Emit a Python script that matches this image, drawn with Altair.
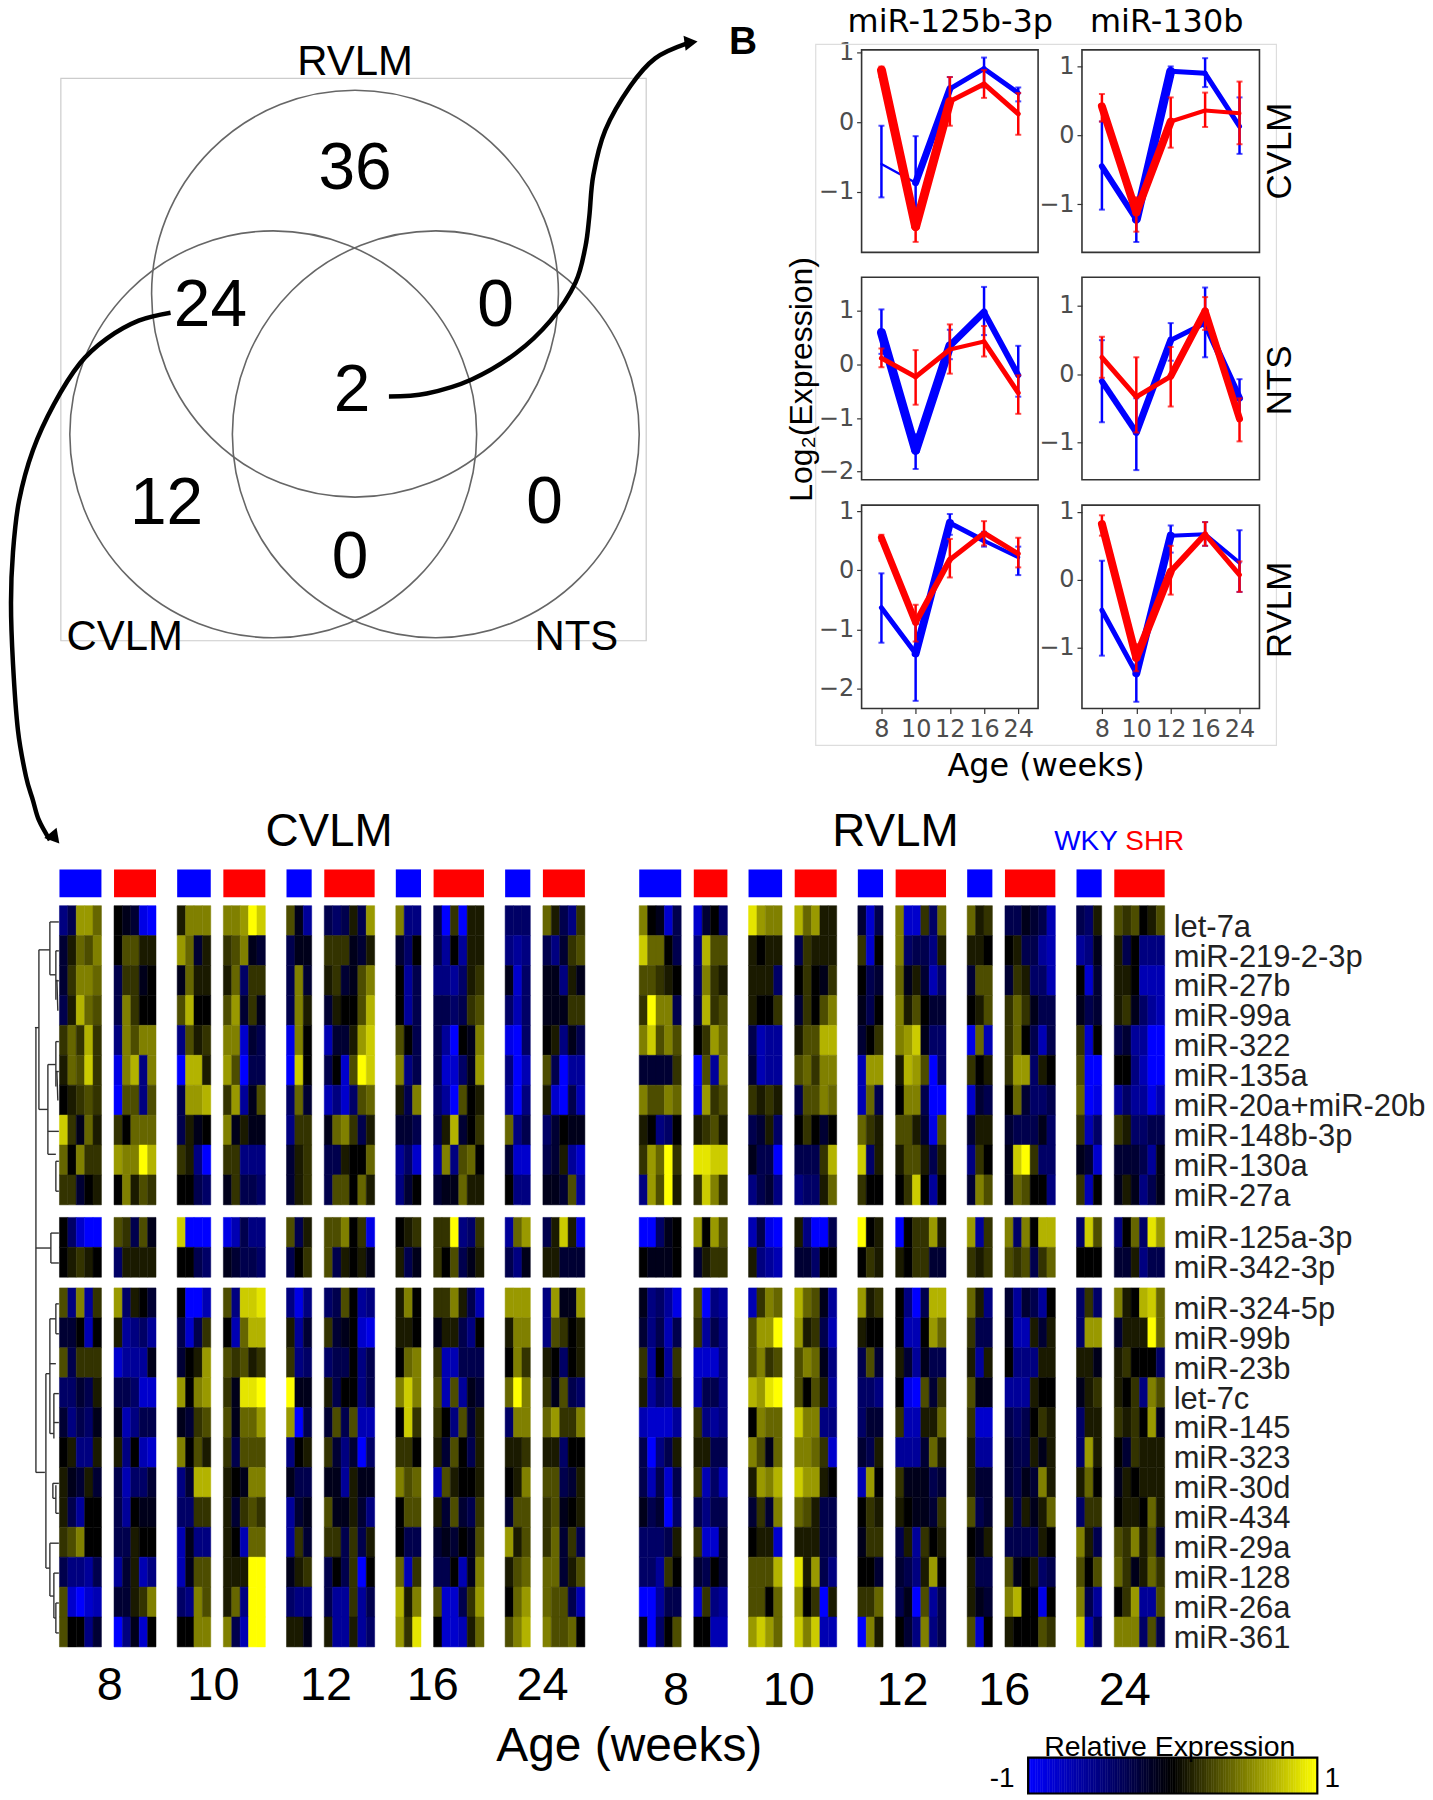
import altair as alt

W, H = 1421, 1790

# ---------- heat map values, tenths of relative expression, one row per miRNA ----------
ROW_LABELS = ["let-7a", "miR-219-2-3p", "miR-27b", "miR-99a", "miR-322", "miR-135a", "miR-20a+miR-20b",
              "miR-148b-3p", "miR-130a", "miR-27a", "miR-125a-3p", "miR-342-3p", "miR-324-5p", "miR-99b",
              "miR-23b", "let-7c", "miR-145", "miR-323", "miR-30d", "miR-434", "miR-29a", "miR-128",
              "miR-26a", "miR-361"]

C8W = [[-5,-3,6,6,4],[-2,1,4,3,5],[-2,2,5,5,4],[-3,1,7,4,3],[2,4,2,7,2],[1,4,3,8,2],[0,1,2,3,2],[8,2,-1,4,1],[4,0,5,2,2],[2,2,-2,0,1],
       [0,-4,-8,-10,-10],[0,1,2,1,0],
       [3,-5,5,-6,2],[-2,-2,0,-7,0],[3,-3,2,2,2],[-4,-4,-2,-3,1],[-2,-5,-3,-4,-1],[0,1,-5,-5,1],[1,-1,-2,1,-2],[1,-3,-6,0,0],[2,3,5,0,0],[-3,-5,-5,-6,-3],[3,-8,-10,-8,-7],[3,0,0,-5,-2]]
C8S = [[0,-1,-2,-9,-10],[0,3,3,1,1],[-3,2,2,-1,0],[-3,5,2,0,0],[-5,5,3,5,5],[-9,5,7,-5,5],[-10,3,3,-5,3],[2,0,4,4,4],[6,5,5,10,7],[0,5,1,3,2],
       [3,2,-3,3,-1],[-4,1,1,1,1],
       [6,-4,1,0,-2],[1,-6,-5,-4,-6],[-8,-6,-6,-6,-1],[-3,-3,-4,-8,-8],[-1,-7,-5,-3,-3],[1,-5,0,-7,-8],[-3,-7,-4,-4,-2],[-3,-6,0,-1,-1],[-3,-3,1,0,0],[-6,-2,1,-7,-5],[-2,-2,1,2,5],[-10,-5,-1,-8,0]]
C10W = [[1,5,5,5],[6,4,-2,1],[-1,4,1,1],[3,7,0,0],[-5,3,1,2],[-10,7,7,1],[-3,6,6,7],[-3,1,-1,0],[2,1,-5,-10],[0,0,-3,-4],
        [8,-10,-10,-10],[0,0,-3,-4],
        [0,-10,-10,-7],[-3,-8,-3,2],[-2,0,1,6],[6,0,5,6],[-1,-2,2,3],[5,0,3,1],[-5,-2,7,7],[-4,-4,2,2],[-7,-1,-5,-5],[-7,-1,3,3],[-4,-5,5,3],[0,0,5,5]]
C10S = [[5,5,6,10,8],[2,3,5,-1,-2],[1,4,-4,2,2],[3,6,-2,2,-1],[5,5,-8,-2,-3],[6,3,-10,-3,-3],[2,6,-6,-1,3],[5,-1,1,-1,-1],[2,2,-5,-5,-5],[-1,2,-3,-3,-4],
        [-9,-7,-3,-5,-5],[-1,-2,-3,-3,-4],
        [3,-5,8,8,9],[0,-7,4,7,7],[3,2,3,1,2],[2,-1,9,9,10],[3,-1,4,4,6],[2,-3,3,3,3],[1,0,-1,5,5],[1,-2,2,3,2],[1,0,-7,4,4],[1,1,1,10,10],[1,4,-5,10,10],[5,-3,-7,10,10]]
C12W = [[3,-1,-6],[-3,-1,-1],[-3,5,-2],[-3,5,1],[-9,5,0],[-10,8,0],[-4,4,-2],[-5,2,2],[-2,1,2],[-2,1,2],
        [3,-3,1],[-3,0,2],
        [-5,-9,-5],[1,-6,-2],[2,-5,-4],[10,-1,-1],[6,-10,-3],[-5,0,1],[-1,-3,-3],[-6,-2,-1],[-6,2,-2],[-1,1,2],[-4,-5,-5],[1,1,-1]]
C12S = [[-3,-4,-3,1,-3,6],[2,2,2,-1,-2,1],[1,2,-2,-1,3,5],[-2,1,0,0,3,7],[-7,-2,-2,1,6,8],[-3,0,-8,3,10,8],[-7,-5,-8,-4,3,4],[-1,4,5,2,-3,1],[-3,-3,1,0,0,4],[-3,3,3,0,4,1],
        [3,3,5,0,2,-9],[3,-3,1,0,1,-1],
        [-4,-3,3,0,-6,-5],[2,-2,-1,0,-8,-9],[-4,-3,-3,0,-5,-3],[1,-3,0,0,-5,-3],[-2,3,-3,3,-7,-7],[2,-2,-5,-2,-10,-4],[-1,-1,-6,1,-1,-1],[3,-1,-1,1,-2,-5],[2,2,-3,2,-3,1],[-3,0,-3,2,-10,0],[-3,-6,-6,2,-6,-3],[1,-6,-6,1,-6,-4]]
C16W = [[5,-5,-5],[-2,-4,0],[0,-6,-3],[0,-6,-3],[3,0,-3],[5,-5,-3],[1,-3,5],[-2,-2,-3],[-6,-4,-8],[-5,-2,0],
        [0,1,2],[1,-3,-1],
        [1,5,0],[1,1,0],[0,4,5],[5,8,5],[0,8,2],[2,2,0],[5,3,4],[0,3,3],[0,-3,-3],[4,-7,2],[7,1,5],[6,2,9]]
C16S = [[-3,-10,2,-10,1,1],[-3,-6,0,-6,1,1],[-5,-5,-6,-4,1,2],[-3,-3,-4,-3,2,3],[-3,-6,-10,0,-1,5],[-3,-8,-8,-4,-1,6],[-4,-6,-10,3,0,1],[-3,1,7,-2,0,2],[-6,5,-5,3,4,0],[-2,-1,-1,4,1,1],
        [2,2,10,-5,-4,2],[2,0,3,-3,-1,1],
        [2,2,5,1,-3,-7],[-1,1,1,-3,-5,0],[2,-7,-7,-3,-3,-3],[3,-7,3,-6,-1,-2],[2,0,-5,3,-2,1],[1,-2,3,0,-3,1],[-7,3,1,0,0,1],[1,-2,3,-2,-3,2],[-2,-1,-2,0,-1,3],[-3,-3,0,-7,-1,5],[3,-8,-8,-3,2,6],[0,-8,-8,-7,1,4]]
C24W = [[-4,-4,-4],[-5,-6,-5],[-1,-8,-4],[-4,-7,-4],[-9,-10,-4],[-5,-10,-7],[-6,-10,-5],[4,-5,-3],[-2,-8,-8],[0,-5,-5],
        [-6,4,6],[-3,-5,-1],
        [6,6,6],[1,5,5],[0,5,2],[4,10,5],[-4,5,5],[1,1,2],[0,1,5],[-2,3,3],[6,1,3],[1,3,4],[0,4,6],[3,5,7]]
C24S = [[4,1,-3,-5,2],[-3,-5,-2,2,3],[-1,-1,-5,1,-1],[-1,-1,-1,2,2],[0,1,-5,-1,-3],[3,-3,-10,-6,-6],[1,-8,-10,-3,-7],[-4,-2,0,-1,-1],[-3,-2,1,-6,-8],[-1,-1,-2,3,-6],
        [-3,1,8,1,-9],[1,1,-2,-2,-2],
        [-5,6,-1,-1,6],[-5,3,2,0,1],[1,0,-4,0,1],[2,-1,3,-3,-4],[4,6,2,2,5],[1,1,-4,0,0],[3,3,-3,-2,1],[2,3,-1,0,1],[2,4,-2,2,-3],[4,4,-2,1,3],[4,3,3,-3,-7],[5,3,3,4,0]]

R8W = [[5,0,-1,-8,-3],[8,4,4,0,-3],[3,3,2,1,0],[2,10,5,5,-3],[5,8,3,5,3],[-2,-2,-2,-2,2],[5,3,3,5,4],[1,0,-5,-4,0],[2,6,4,10,2],[-5,6,3,10,1],
       [-10,-10,-4,-1,0],[0,-1,-1,-1,0],
       [-1,-5,-4,-6,-9],[-2,-5,-3,-7,-3],[2,-6,0,-6,2],[1,-6,-4,-5,1],[-7,-8,-8,-8,-6],[-3,-10,-5,-3,1],[-3,-7,-3,-8,-3],[-1,-3,-2,-10,-4],[-4,-4,-4,-3,1],[-4,-4,-6,2,0],[-10,-10,-6,-3,-3],[-1,-10,-4,0,3]]
R8S = [[-8,-2,0,-4],[-5,7,3,3],[-4,5,2,1],[-3,7,2,3],[0,2,6,4],[-10,3,-6,5],[-9,6,2,3],[1,2,3,1],[9,9,8,8],[2,8,5,2],
       [6,0,6,3],[-2,1,2,2],
       [3,-10,-5,-6],[2,-6,-3,-5],[-8,-8,-8,-5],[-7,-3,-3,-5],[2,-5,-6,-5],[1,1,-3,-3],[2,-7,-4,-7],[-3,-5,-3,-3],[2,-8,-8,-2],[-2,-3,0,-2],[-8,2,-5,-6],[0,0,-7,-7]]
R10W = [[9,6,5,5],[1,0,1,1],[1,1,1,-4],[1,0,0,2],[-3,-7,-6,-6],[-2,-7,-6,-6],[2,1,2,1],[-3,-2,1,-4],[-1,-3,-3,-10],[-5,-3,-2,-5],
        [-7,-3,-9,-10],[1,-5,-6,-7],
        [-7,2,5,4],[3,6,6,10],[3,5,2,3],[7,6,9,10],[0,5,4,4],[5,3,-1,4],[1,6,5,7],[-2,2,-2,5],[0,1,1,-8],[3,3,3,7],[3,3,0,4],[6,8,6,4]]
R10S = [[7,4,6,1,1],[-3,2,1,1,1],[0,2,0,-1,2],[-2,2,0,3,5],[1,3,3,7,7],[3,4,2,5,5],[-3,3,3,5,4],[0,2,0,-2,0],[-3,-3,-3,2,7],[-5,-4,-4,1,4],
        [1,-5,-10,-10,-3],[-2,-2,-4,0,0],
        [7,4,3,-1,-6],[6,1,2,-3,-7],[3,5,4,-1,-5],[3,0,3,1,-6],[8,5,5,-5,-5],[5,5,4,2,-8],[8,6,6,1,0],[4,3,1,-3,-3],[1,1,1,-3,-3],[9,1,6,-3,-5],[6,0,2,-10,1],[8,5,8,-7,-7]]
R12W = [[-2,-8,-3],[2,-8,0],[0,-3,-2],[-1,-3,0],[-2,0,2],[-7,6,6],[-7,4,-3],[4,2,1],[8,-4,1],[2,0,0],
        [10,0,1],[0,2,1],
        [6,1,2],[1,0,0],[-3,3,-2],[-4,-4,-5],[-4,-2,-2],[-2,-3,1],[-7,6,0],[0,2,1],[-1,2,2],[0,0,-2],[2,2,4],[-10,5,1]]
R12S = [[5,-8,-8,2,-4,4],[5,-4,-3,-3,-5,1],[4,-1,1,-2,-7,-4],[5,1,3,0,-2,-2],[5,6,8,-1,-4,-4],[1,7,6,3,-10,-4],[0,5,5,-3,-10,-10],[3,3,1,-2,-9,3],[1,3,3,1,-3,1],[0,2,8,0,-6,0],
        [-10,0,2,2,6,1],[1,0,2,2,-2,-2],
        [0,-5,-10,-3,7,7],[0,-7,-7,0,6,4],[1,-2,-6,-1,-3,-3],[0,-9,-10,3,-2,2],[2,-7,-7,1,1,4],[-6,-6,-6,-2,4,1],[2,-1,-1,-1,-3,-2],[1,0,-1,-1,-2,2],[-3,1,-6,2,0,1],[-2,-3,-5,1,6,0],[-3,-1,-10,3,-6,-3],[0,-2,-5,5,-5,-3]]
R16W = [[4,1,2],[1,1,0],[-2,3,3],[0,1,3],[-9,4,-7],[2,0,1],[-8,-2,-3],[-2,1,1],[-5,2,0],[-2,5,3],
        [6,-6,2],[2,1,2],
        [4,1,-5],[2,-3,-3],[1,-6,1],[3,-1,-1],[2,-8,-8],[1,-6,-6],[1,-2,-2],[3,-3,-2],[0,-1,1],[1,-3,-3],[1,-1,-2],[3,-8,0]]
R16S = [[-3,-3,-1,-2,-3,-7],[0,1,-3,-3,-6,-7],[-2,2,1,-4,-4,-7],[2,4,2,-1,-3,-3],[2,4,0,-3,-7,-3],[2,6,6,-4,1,0],[0,4,-2,-4,-4,-3],[-2,-3,-3,-3,-1,-4],[-1,8,10,2,-4,-4],[-1,4,3,0,0,-5],
        [5,-4,5,0,7,7],[3,2,3,-3,2,4],
        [-2,-6,-2,-3,-6,0],[-1,-7,-7,1,-2,1],[0,-5,-5,-5,1,1],[-6,-6,-6,1,0,0],[-3,-4,-3,0,2,1],[-2,-3,-3,1,-1,1],[-2,-3,-1,-2,5,1],[1,-3,1,-1,1,4],[-3,-3,-3,-3,1,0],[3,-1,0,1,-4,-3],[5,7,0,0,-9,0],[1,0,0,0,3,2]]
R24W = [[-3,-4,1],[-6,-5,-1],[0,-8,-2],[-1,-3,-2],[2,-8,0],[3,-10,-10],[4,-10,-9],[2,-7,-4],[-1,-2,-8],[2,-7,0],
        [-4,8,3],[0,0,0],
        [-4,2,-4],[-4,6,6],[1,1,-1],[-1,1,2],[-4,1,1],[-4,6,1],[1,4,0],[-4,2,2],[5,1,-3],[3,0,3],[5,-3,-6],[8,-7,-3]]
R24S = [[3,2,3,0,1,3],[1,-3,0,-5,-5,-5],[1,1,0,-7,-7,-7],[1,2,-1,-4,-6,-7],[-3,-2,-6,-6,-10,-10],[0,0,-5,-7,-10,-10],[-6,-4,-6,-6,-9,-7],[2,1,-4,-4,-3,-3],[-2,-2,-2,-3,-6,-1],[-1,1,-1,-5,-3,-1],
        [-5,0,4,-4,9,6],[-2,-2,1,-5,-3,-3],
        [5,1,0,7,8,4],[-2,1,1,1,10,4],[1,2,0,0,0,-4],[1,0,2,-5,5,3],[2,1,2,0,6,-1],[0,-2,2,1,1,1],[-1,1,0,1,1,1],[0,1,1,0,4,1],[3,2,5,1,3,-2],[4,2,-1,1,4,2],[0,2,6,-6,-6,3],[5,5,5,-4,3,-3]]

CVLM_GROUPS = [C8W, C8S, C10W, C10S, C12W, C12S, C16W, C16S, C24W, C24S]
RVLM_GROUPS = [R8W, R8S, R10W, R10S, R12W, R12S, R16W, R16S, R24W, R24S]

# ---------- line panels: mean, lower and upper error for each age ----------
AGES = [8, 10, 12, 16, 24]
P11_WKY = ([-0.60, -0.87, 0.48, 0.77, 0.42], [-1.08, -1.50, 0.25, 0.50, 0.30], [-0.05, -0.20, 0.65, 0.93, 0.50])
P11_SHR = ([0.75, -1.50, 0.30, 0.55, 0.12], [0.65, -1.72, -0.05, 0.35, -0.18], [0.80, -1.30, 0.65, 0.75, 0.42])
P12_WKY = ([-0.45, -1.22, 0.93, 0.90, 0.13], [-1.08, -1.55, 0.85, 0.70, -0.27], [0.20, -0.95, 1.00, 1.12, 0.55])
P12_SHR = ([0.42, -1.12, 0.20, 0.36, 0.32], [0.20, -1.40, -0.18, 0.12, -0.13], [0.60, -0.90, 0.55, 0.62, 0.78])
P21_WKY = ([0.60, -1.60, 0.35, 0.98, -0.20], [0.20, -1.95, 0.10, 0.55, -0.60], [1.03, -1.30, 0.65, 1.45, 0.35])
P21_SHR = ([0.12, -0.23, 0.28, 0.43, -0.53], [-0.05, -0.75, -0.17, 0.15, -0.92], [0.30, 0.27, 0.75, 0.72, -0.20])
P22_WKY = ([-0.10, -0.85, 0.50, 0.75, -0.35], [-0.70, -1.40, 0.20, 0.25, -0.65], [0.50, -0.35, 0.75, 1.27, -0.07])
P22_SHR = ([0.25, -0.33, -0.03, 0.93, -0.65], [-0.05, -0.85, -0.47, 0.65, -0.98], [0.55, 0.25, 0.40, 1.13, -0.35])
P31_WKY = ([-0.63, -1.40, 0.80, 0.50, 0.22], [-1.22, -2.20, 0.60, 0.40, -0.08], [-0.05, -0.90, 0.95, 0.65, 0.40])
P31_SHR = ([0.55, -0.88, 0.18, 0.63, 0.28], [0.50, -1.20, -0.12, 0.42, 0.05], [0.60, -0.58, 0.53, 0.83, 0.55])
P32_WKY = ([-0.45, -1.38, 0.65, 0.67, 0.25], [-1.12, -1.80, 0.40, 0.50, -0.18], [0.28, -1.00, 0.80, 0.85, 0.73])
P32_SHR = ([0.82, -1.15, 0.12, 0.67, 0.07], [0.65, -1.35, -0.22, 0.50, -0.18], [0.95, -0.95, 0.50, 0.85, 0.27])

# stroke width of each of the four segments, as it appears in the picture
P11_WKY_W, P11_SHR_W = [2.5, 7, 5, 5], [9, 9, 5, 5]
P12_WKY_W, P12_SHR_W = [6, 9, 5, 5], [8, 8, 4, 4]
P21_WKY_W, P21_SHR_W = [9, 9, 7, 6], [5, 5, 4, 5]
P22_WKY_W, P22_SHR_W = [6, 7, 5, 7], [5, 5, 7, 7]
P31_WKY_W, P31_SHR_W = [5, 8, 5, 4], [7, 6, 5, 5]
P32_WKY_W, P32_SHR_W = [5, 8, 4, 4], [8, 8, 6, 5]

# ---------- Venn ----------
VENN_CX = [356, 274, 437]
VENN_CY = [292, 433, 433]
VENN_LABELS = ["36", "24", "0", "2", "12", "0", "0"]
VENN_LX = [356, 211, 497, 353, 167, 546, 351]
VENN_LY = [167, 304, 304, 390, 503, 502, 557]

# ---------- curved arrows ----------
ARROW1_X = [390, 428, 473, 517, 552, 577, 587, 591, 595, 607, 632, 657, 689]
ARROW1_Y = [395, 392, 378, 352, 319, 281, 245, 214, 173, 128, 84, 56, 41]
ARROW2_X = [171, 139, 107, 80, 54, 33, 19, 13, 11, 13, 18, 26, 33, 39, 50]
ARROW2_Y = [311, 319, 337, 362, 403, 449, 500, 551, 602, 663, 730, 776, 800, 820, 840]

# ---------- dendrogram segments: x1, y1, x2, y2 ----------
DENDRO = [
    (36, 1028, 36, 1474), (35, 1028, 39, 1028), (39, 950, 39, 1110), (39, 950, 50, 950), (39, 1110, 48, 1110),
    (50, 922, 50, 975), (50, 922, 59, 922), (50, 975, 56, 975), (56, 951, 56, 1000), (56, 951, 59, 951), (56, 981, 59, 981),
    (57, 980, 58, 1011), (48, 1065, 48, 1155), (48, 1065, 56, 1065), (56, 1042, 56, 1087), (56, 1042, 59, 1042),
    (56, 1072, 59, 1072), (57, 1072, 58, 1101), (48, 1132, 59, 1132), (48, 1155, 56, 1155), (56, 1162, 56, 1192),
    (56, 1162, 59, 1162), (56, 1192, 59, 1192),
    (36, 1249, 51, 1249), (51, 1234, 51, 1264), (51, 1234, 59, 1234), (51, 1264, 59, 1264),
    (36, 1474, 45, 1474), (46, 1375, 46, 1570), (46, 1375, 50, 1375), (46, 1570, 50, 1570),
    (50, 1320, 50, 1435), (50, 1320, 56, 1320), (56, 1305, 56, 1335), (56, 1305, 59, 1305), (56, 1335, 59, 1335),
    (50, 1365, 56, 1365), (54, 1395, 54, 1440), (54, 1395, 59, 1395), (54, 1424, 59, 1424), (50, 1435, 54, 1435),
    (53, 1485, 53, 1500), (53, 1485, 59, 1485), (53, 1500, 56, 1500), (56, 1487, 56, 1515), (56, 1515, 59, 1515),
    (50, 1545, 50, 1598), (50, 1545, 59, 1545), (50, 1598, 54, 1598), (54, 1575, 54, 1620), (54, 1575, 59, 1575),
    (54, 1620, 56, 1620), (56, 1605, 56, 1635), (56, 1605, 59, 1605), (56, 1635, 59, 1635),
]

# ---------- texts: label, centre x, centre y ----------
AGE_LABELS = ["8", "10", "12", "16", "24", "8", "10", "12", "16", "24"]
AGE_LX = [110, 214, 327, 434, 544, 678, 791, 905, 1007, 1128]
AGE_LY = [1688, 1688, 1688, 1688, 1688, 1693, 1693, 1693, 1693, 1693]

# ---------- heat map geometry ----------
CELL_W = 8.42
HEAT_LEFT = 59.6
HEAT_TOP = 905.7
ROW_H = 30.0
RVLM_SLOT = (641.0 - HEAT_LEFT) / CELL_W
GAP_IN, GAP_OUT = 1.5, 2.52


def row_top(r):
    if r < 10:
        return r
    if r < 12:
        return r + 0.42
    return r + 0.777


heat_rows, wky_bars, shr_bars = [], [], []
for start, groups in ((0.0, CVLM_GROUPS), (RVLM_SLOT, RVLM_GROUPS)):
    slot = start
    for g, group in enumerate(groups):
        n = len(group[0])
        (wky_bars if g % 2 == 0 else shr_bars).append({"x0": slot, "x1": slot + n, "y0": -1.213, "y1": -0.28})
        for r, row in enumerate(group):
            for c, v in enumerate(row):
                heat_rows.append({"x0": slot + c, "x1": slot + c + 1, "y0": row_top(r), "y1": row_top(r) + 1, "v": v / 10})
        slot += n + (GAP_IN if g % 2 == 0 else GAP_OUT)

LEG_X0, LEG_X1, LEG_Y0, LEG_Y1 = 1031, 1321, 1760, 1796
ramp_rows = []
STEPS = 120
for i in range(STEPS):
    px0 = LEG_X0 + (LEG_X1 - LEG_X0) * i / STEPS
    px1 = LEG_X0 + (LEG_X1 - LEG_X0) * (i + 1) / STEPS
    ramp_rows.append({"x0": (px0 - HEAT_LEFT) / CELL_W, "x1": (px1 - HEAT_LEFT) / CELL_W,
                      "y0": (LEG_Y0 - HEAT_TOP) / ROW_H, "y1": (LEG_Y1 - HEAT_TOP) / ROW_H,
                      "v": -1 + 2 * (i + 0.5) / STEPS})

hx = alt.Scale(domain=[0, 100], range=[HEAT_LEFT - 8, HEAT_LEFT - 8 + 100 * CELL_W], nice=False, zero=False)
hy = alt.Scale(domain=[0, 30], range=[HEAT_TOP - 8, HEAT_TOP - 8 + 30 * ROW_H], nice=False, zero=False)
cs = alt.Scale(domain=[-1, 0, 1], range=["#0000ff", "#000000", "#ffff00"], interpolate="rgb")


def rect_enc(base):
    return base.encode(
        x=alt.X("x0:Q", scale=hx, axis=None), x2="x1:Q",
        y=alt.Y("y0:Q", scale=hy, axis=None), y2="y1:Q",
    )


heat = rect_enc(alt.Chart(alt.Data(values=heat_rows)).mark_rect(strokeWidth=0.5)).encode(
    color=alt.Color("v:Q", scale=cs, legend=None), stroke=alt.Stroke("v:Q", scale=cs, legend=None))
ramp = rect_enc(alt.Chart(alt.Data(values=ramp_rows)).mark_rect(strokeWidth=0.5)).encode(
    color=alt.Color("v:Q", scale=cs, legend=None), stroke=alt.Stroke("v:Q", scale=cs, legend=None))
blue_bars = rect_enc(alt.Chart(alt.Data(values=wky_bars)).mark_rect(color="#0000ff"))
red_bars = rect_enc(alt.Chart(alt.Data(values=shr_bars)).mark_rect(color="#ff0000"))
heat_layer = alt.layer(heat, ramp, blue_bars, red_bars)

# ---------- page-pixel overlay ----------
px = alt.Scale(domain=[0, 1433], range=[-8, 1425], nice=False, zero=False)
py = alt.Scale(domain=[0, 1800], range=[-8, 1792], nice=False, zero=False)


def X(f="x"):
    return alt.X(f + ":Q", scale=px, axis=None)


def Y(f="y"):
    return alt.Y(f + ":Q", scale=py, axis=None)


def texts(items, size, color="#000000", font="Liberation Sans", weight="normal", angle=0, align="center"):
    rows = [{"t": t, "x": x, "y": y} for t, x, y in items]
    return alt.Chart(alt.Data(values=rows)).mark_text(
        fontSize=size, color=color, font=font, fontWeight=weight, angle=angle, align=align, baseline="middle"
    ).encode(x=X(), y=Y(), text="t:N")


def frame(x0, y0, x1, y1, color, width):
    return alt.Chart(alt.Data(values=[{"x": x0, "x1": x1, "y": y0, "y1": y1}])).mark_rect(
        filled=False, stroke=color, strokeWidth=width
    ).encode(x=X(), x2="x1:Q", y=Y(), y2="y1:Q")


def curve(xs, ys, width=4.5):
    rows = [{"x": a, "y": b, "i": i} for i, (a, b) in enumerate(zip(xs, ys))]
    return alt.Chart(alt.Data(values=rows)).mark_line(
        color="#000000", strokeWidth=width, interpolate="cardinal"
    ).encode(x=X(), y=Y(), order="i:Q")


def head(x, y, angle, size):
    return alt.Chart(alt.Data(values=[{"x": x, "y": y}])).mark_point(
        shape="triangle-up", filled=True, color="#000000", size=size, angle=angle, opacity=1
    ).encode(x=X(), y=Y())


circles = alt.Chart(alt.Data(values=[{"x": a, "y": b} for a, b in zip(VENN_CX, VENN_CY)])).mark_point(
    shape="circle", filled=False, size=166464, stroke="#666666", strokeWidth=1.6, opacity=1
).encode(x=X(), y=Y())

dendro = alt.Chart(alt.Data(values=[{"x": a, "y": b, "x1": c, "y1": d} for a, b, c, d in DENDRO])).mark_rule(
    color="#333333", strokeWidth=1.4
).encode(x=X(), y=Y(), x2="x1:Q", y2="y1:Q")

heat_label_items = [(t, 1177, HEAT_TOP + (row_top(i) + 0.5) * ROW_H + 7) for i, t in enumerate(ROW_LABELS)]

F1 = (864, 1041)
F2 = (1085, 1263)
R1 = (47.5, 250.5)
R2 = (275.5, 478.5)
R3 = (504, 708)

overlay = alt.layer(
    frame(61, 76, 648, 640, "#cccccc", 1.2),
    circles,
    texts([("RVLM", 356, 60), ("CVLM", 125, 636), ("NTS", 578, 636)], 42),
    texts(list(zip(VENN_LABELS, VENN_LX, VENN_LY)), 66),
    texts([("B", 745, 40)], 39, weight="bold"),
    curve(ARROW1_X, ARROW1_Y), head(693, 40, 82, 230),
    curve(ARROW2_X, ARROW2_Y), head(55, 838, 140, 260),
    frame(818, 42, 1280, 745, "#dddddd", 1.2),
    texts([("miR-125b-3p", 953, 20), ("miR-130b", 1170, 20), ("Age (weeks)", 1049, 766)], 32, font="DejaVu Sans"),
    texts([("CVLM", 1284, 149), ("NTS", 1284, 379), ("RVLM", 1284, 609)], 35, angle=270),
    texts([("Log₂(Expression)", 804, 378)], 32, angle=270),
    texts([("CVLM", 330, 832), ("RVLM", 898, 832)], 46),
    texts([("WKY", 1089, 842)], 28, color="#0000ff"),
    texts([("SHR", 1158, 842)], 28, color="#ff0000"),
    dendro,
    texts(heat_label_items, 31, color="#222222", align="left"),
    texts(list(zip(AGE_LABELS, AGE_LX, AGE_LY)), 47),
    texts([("Age (weeks)", 631, 1749)], 48),
    texts([("Relative Expression", 1173, 1749)], 28.5),
    texts([("-1", 1005, 1781), ("1", 1336, 1781)], 28),
    frame(LEG_X0, LEG_Y0, LEG_X1, LEG_Y1, "#000000", 2.2),
    frame(F1[0], R1[0], F1[1], R1[1], "#333333", 1.6),
    frame(F2[0], R1[0], F2[1], R1[1], "#333333", 1.6),
    frame(F1[0], R2[0], F1[1], R2[1], "#333333", 1.6),
    frame(F2[0], R2[0], F2[1], R2[1], "#333333", 1.6),
    frame(F1[0], R3[0], F1[1], R3[1], "#333333", 1.6),
    frame(F2[0], R3[0], F2[1], R3[1], "#333333", 1.6),
)


# ---------- line panels ----------
def series(vals):
    m, lo, hi = vals
    return [{"age": a, "m": b, "lo": c, "hi": d} for a, b, c, d in zip(AGES, m, lo, hi)]


def segments(vals, widths):
    m = vals[0]
    return [{"age": AGES[i], "next": AGES[i + 1], "m": m[i], "n": m[i + 1], "w": widths[i]} for i in range(4)]


def panel(wky, wky_w, shr, shr_w, fx, fy, dom, values, show_x):
    x0, x1 = fx
    y0, y1 = fy
    xs = alt.Scale(type="point", domain=AGES, range=[x0 - 8, x1 - 8], padding=0.58)
    ys = alt.Scale(domain=dom, range=[y1 - 8, y0 - 8], nice=False, zero=False)
    xa = alt.Axis(orient="bottom", offset=-(H - (y1 - 8)), domain=False, grid=False, title=None, labelAngle=0,
                  labelFontSize=24, labelColor="#4d4d4d", labelFont="DejaVu Sans", tickColor="#333333",
                  tickSize=5, tickWidth=1.2, labelPadding=4) if show_x else None
    ya = alt.Axis(orient="left", offset=-(x0 - 8), domain=False, grid=False, title=None, values=values,
                  labelFontSize=24, labelColor="#4d4d4d", labelFont="DejaVu Sans", tickColor="#333333",
                  tickSize=5, tickWidth=1.2, labelPadding=3)
    ex = alt.X("age:O", scale=xs, axis=xa)
    layers = []
    for vals, widths, color in ((wky, wky_w, "#0000ff"), (shr, shr_w, "#ff0000")):
        data = alt.Data(values=series(vals))
        layers.append(alt.Chart(alt.Data(values=segments(vals, widths))).mark_rule(color=color, strokeCap="round").encode(
            x=ex, x2="next:O", y=alt.Y("m:Q", scale=ys, axis=ya), y2="n:Q",
            size=alt.Size("w:Q", scale=None, legend=None)))
        layers.append(alt.Chart(data).mark_rule(color=color, strokeWidth=2.5).encode(
            x=ex, y=alt.Y("lo:Q", scale=ys, axis=ya), y2="hi:Q"))
        for f in ("lo", "hi"):
            layers.append(alt.Chart(data).mark_tick(color=color, orient="horizontal", size=6, thickness=2).encode(
                x=ex, y=alt.Y(f + ":Q", scale=ys, axis=ya)))
    return alt.layer(*layers)


panels = [
    panel(P11_WKY, P11_WKY_W, P11_SHR, P11_SHR_W, F1, R1, [-1.87, 1.04], [-1, 0, 1], False),
    panel(P12_WKY, P12_WKY_W, P12_SHR, P12_SHR_W, F2, R1, [-1.70, 1.24], [-1, 0, 1], False),
    panel(P21_WKY, P21_WKY_W, P21_SHR, P21_SHR_W, F1, R2, [-2.15, 1.63], [-2, -1, 0, 1], False),
    panel(P22_WKY, P22_WKY_W, P22_SHR, P22_SHR_W, F2, R2, [-1.54, 1.42], [-1, 0, 1], False),
    panel(P31_WKY, P31_WKY_W, P31_SHR, P31_SHR_W, F1, R3, [-2.33, 1.10], [-2, -1, 0, 1], True),
    panel(P32_WKY, P32_WKY_W, P32_SHR, P32_SHR_W, F2, R3, [-1.90, 1.10], [-1, 0, 1], True),
]

chart = alt.layer(heat_layer, overlay, *panels).resolve_scale(x="independent", y="independent").properties(
    width=W, height=H, padding=0, autosize=alt.AutoSizeParams(type="none")
).configure_view(stroke=None).configure_axis(grid=False)

chart.save("out.html", embed_options={"renderer": "svg", "actions": False})
